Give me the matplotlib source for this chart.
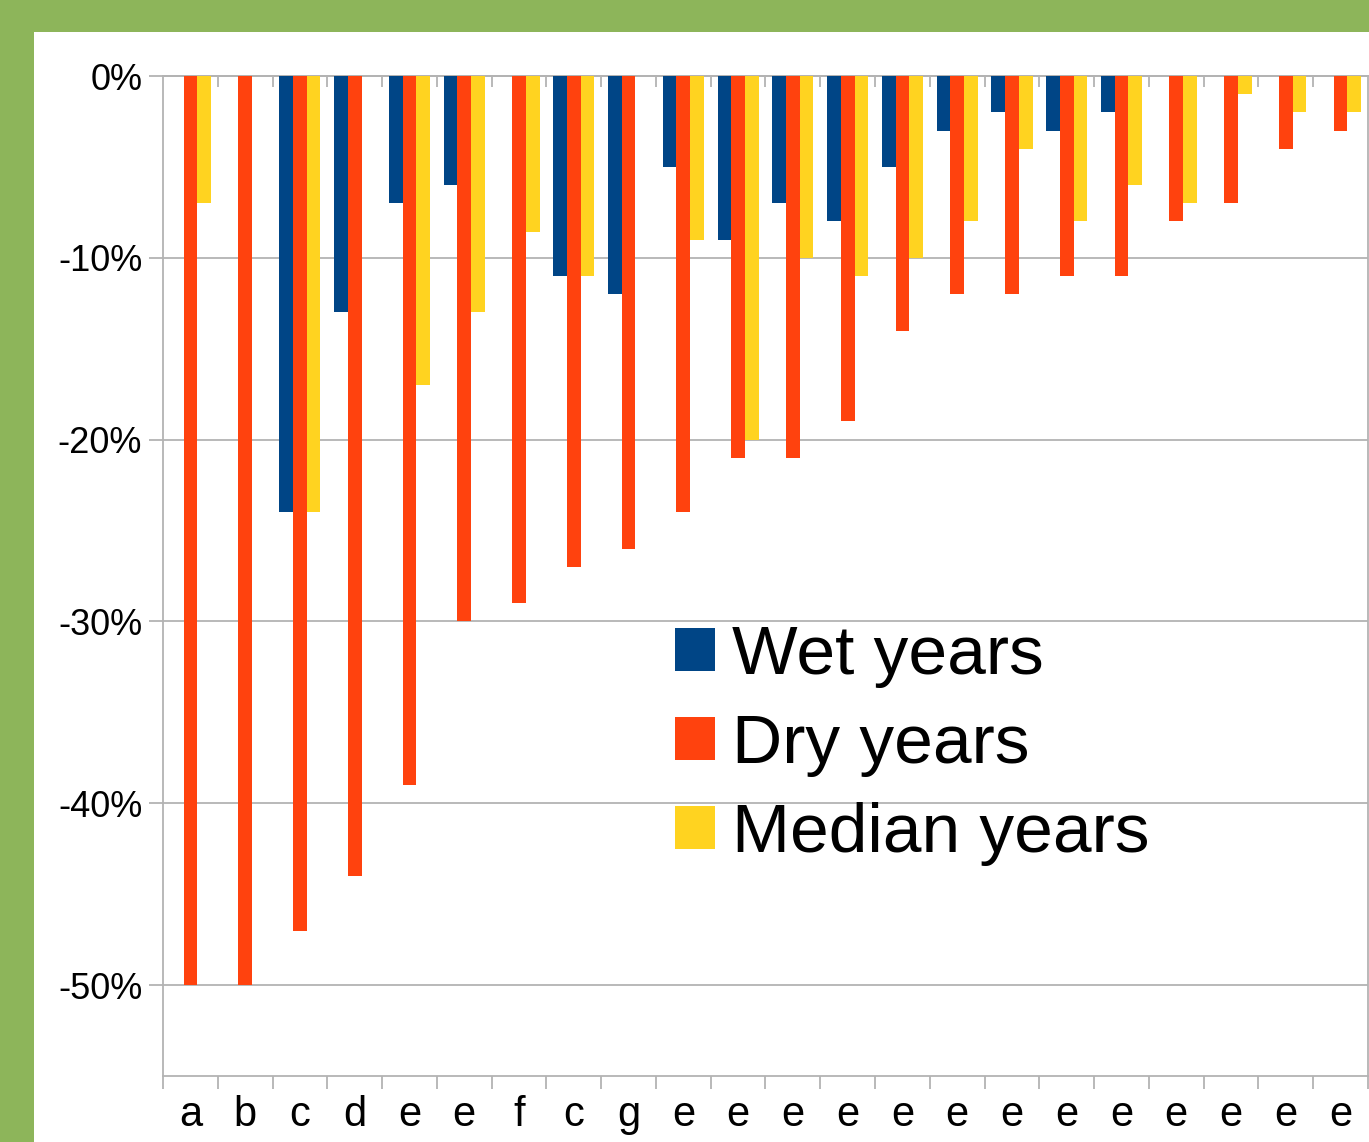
import numpy as np
import matplotlib.pyplot as plt
from matplotlib.patches import Rectangle
from matplotlib.ticker import FuncFormatter

nan = np.nan

categories = ['a', 'b', 'c', 'd', 'e', 'e', 'f', 'c', 'g', 'e', 'e',
              'e', 'e', 'e', 'e', 'e', 'e', 'e', 'e', 'e', 'e', 'e']

wet = [nan, nan, -24, -13, -7, -6, nan, -11, -12, -5, -9,
       -7, -8, -5, -3, -2, -3, -2, nan, nan, nan, nan]
dry = [-50, -50, -47, -44, -39, -30, -29, -27, -26, -24, -21,
       -21, -19, -14, -12, -12, -11, -11, -8, -7, -4, -3]
median = [-7, nan, -24, nan, -17, -13, -8.6, -11, nan, -9, -20,
          -10, -11, -10, -8, -4, -8, -6, -7, -1, -2, -2]

series_names = ['Wet years', 'Dry years', 'Median years']
colors = ['#004586', '#ff420e', '#ffd320']
grey = '#b3b3b3'

W, H = 1369, 1142
fig = plt.figure(figsize=(W / 100, H / 100), dpi=100)
fig.patch.set_facecolor('#8db55a')
fig.patches.append(Rectangle((34 / W, 0), 1 - 34 / W, 1 - 32 / H,
                             transform=fig.transFigure, facecolor='white',
                             edgecolor='none', zorder=-5))

ax = fig.add_axes([163 / W, (H - 1076) / H, 1205 / W, 1000 / H])
ax.set_facecolor('white')

x = np.arange(len(categories))
bw = 0.25
for i, (vals, name, c) in enumerate(zip([wet, dry, median], series_names, colors)):
    ax.bar(x + (i - 1) * bw, vals, width=bw, color=c, label=name, zorder=3)

ax.set_xlim(-0.5, len(categories) - 0.5)
ax.set_ylim(-55, 0)

ax.set_yticks(np.arange(-50, 1, 10))
ax.yaxis.set_major_formatter(FuncFormatter(lambda v, p: f'{v:.0f}%'))
ax.yaxis.grid(True, color=grey, linewidth=1.3, zorder=0)
ax.tick_params(axis='y', length=10, width=1.3, color=grey, pad=5,
               labelsize=26)
for lab in ax.get_yticklabels():
    lab.set_family(['Liberation Sans', 'DejaVu Sans'])

ax.set_xticks(x)
ax.set_xticklabels(categories, family=['Liberation Sans Narrow', 'Liberation Sans'],
                   fontsize=30)
ax.set_xticks(np.arange(-0.5, len(categories), 1), minor=True)
ax.tick_params(axis='x', which='major', length=0, pad=14)
ax.tick_params(axis='x', which='minor', length=9, width=1.3, color=grey,
               direction='out')

top = ax.secondary_xaxis('top')
top.set_xticks(np.arange(0.5, len(categories) - 1, 1))
top.tick_params(length=8, width=1.3, color=grey, direction='in',
                labeltop=False)
top.spines['top'].set_color(grey)
top.spines['top'].set_linewidth(1.3)

for s in ax.spines.values():
    s.set_color(grey)
    s.set_linewidth(1.3)

leg = ax.legend(loc='upper left', bbox_to_anchor=(0.425, 0.452),
                frameon=False, prop={'family': 'Liberation Sans', 'size': 50},
                handlelength=0.58, handleheight=0.58, handletextpad=0.24,
                labelspacing=0.36, borderpad=0, borderaxespad=0)

fig.savefig('out.png', dpi=100, facecolor=fig.get_facecolor())
